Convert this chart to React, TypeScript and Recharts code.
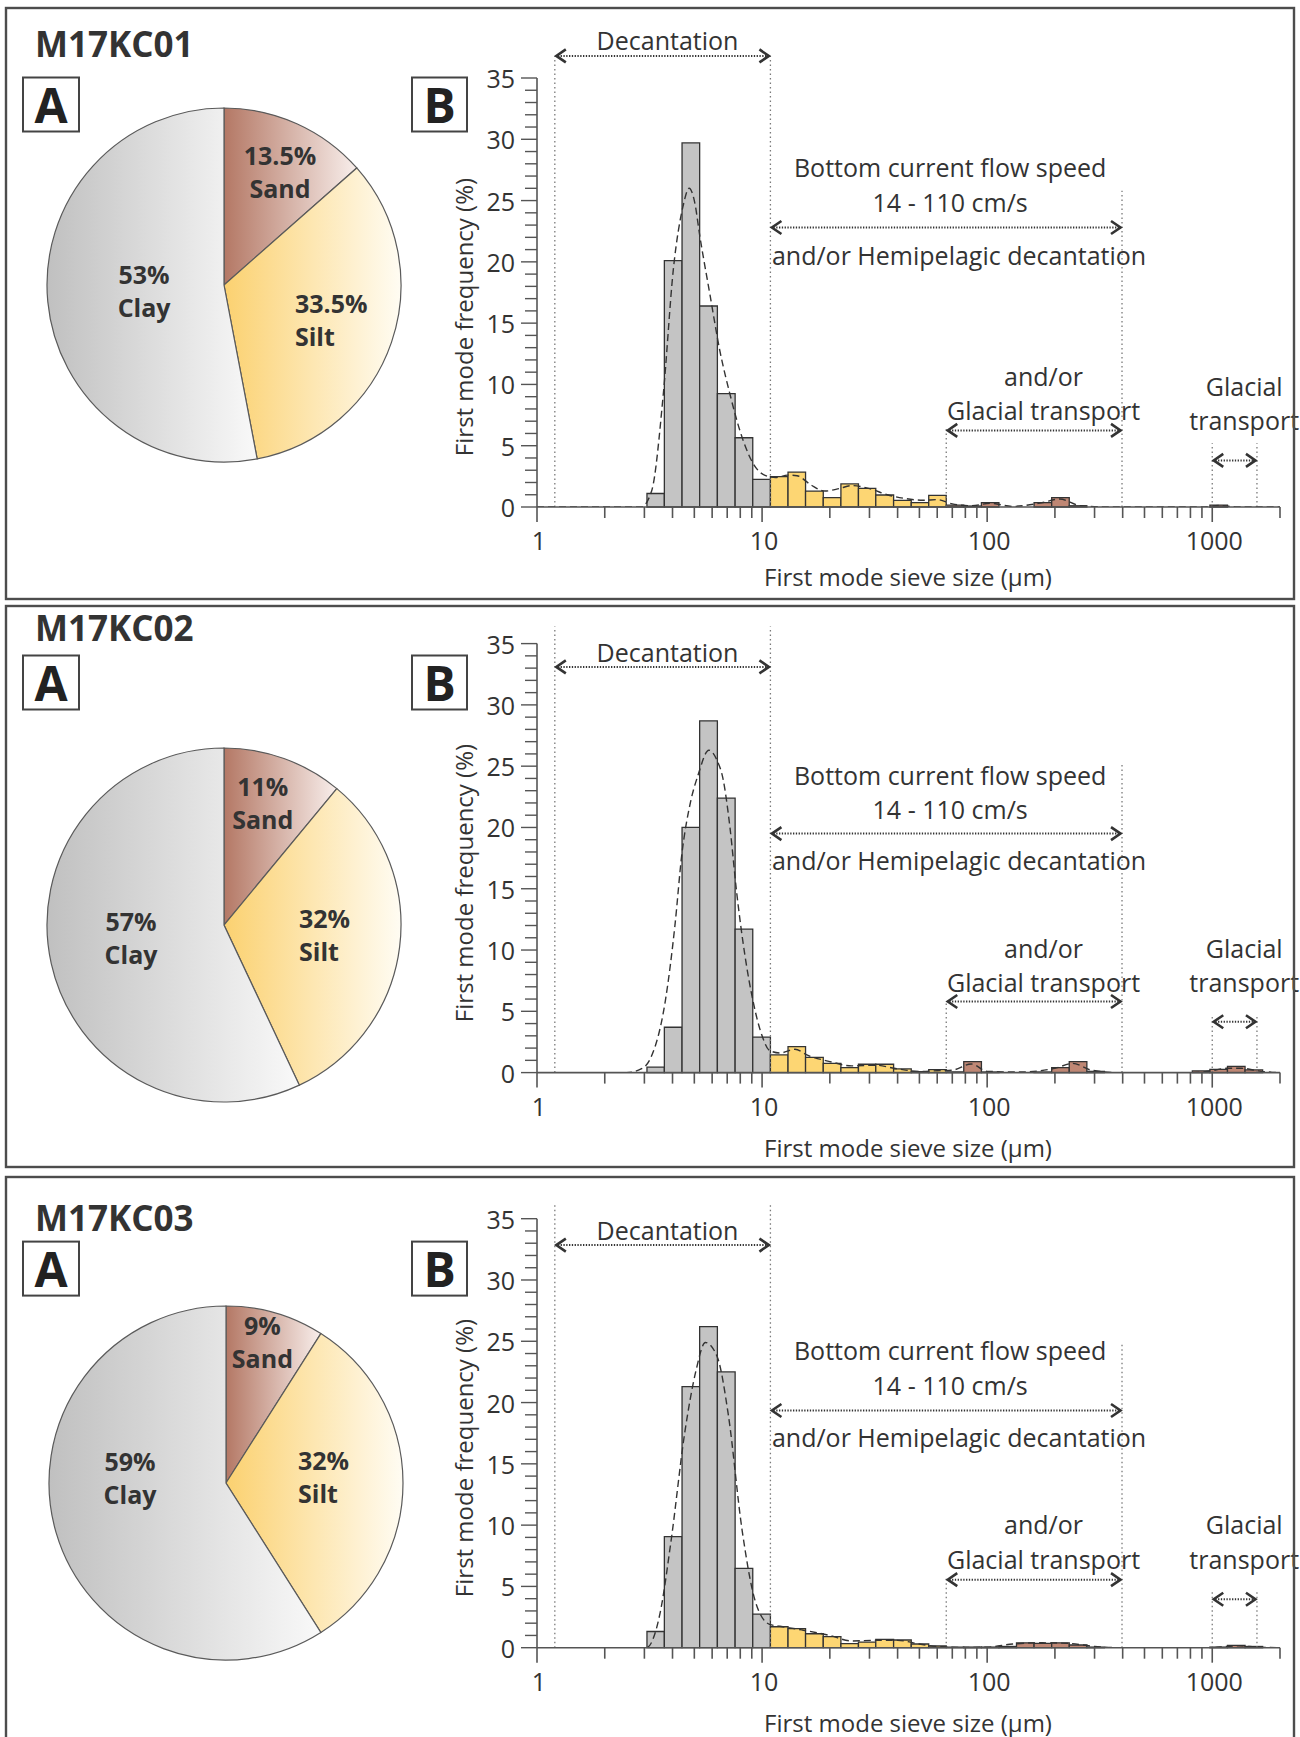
import React from "react";
import {
  ComposedChart,
  Line,
  XAxis,
  YAxis,
  ReferenceArea,
  ReferenceLine,
  ReferenceDot,
  PieChart,
  Pie,
  Cell,
} from "recharts";

const FONT = "'Open Sans', 'DejaVu Sans', sans-serif";
const INK = "#333333";
const AXIS = "#555555";

// sieve bin edges (µm); one bar between two neighbouring edges
const binEdges = [
  3.08, 3.68, 4.41, 5.28, 6.33, 7.59, 9.09, 10.89, 13.04, 15.6, 18.7, 22.4, 26.8,
  32.0, 38.4, 46.0, 55.0, 65.8, 78.7, 94.3, 112.8, 135, 161.6, 193.5, 231.6,
  277.3, 331.9, 397.3, 475.6, 569.3, 681.4, 815.6, 976.3, 1168.7, 1398.9, 1674.5, 2004,
];

// first mode frequency (%) per bin
const freqKC01 = [
  1.1, 20.1, 29.7, 16.4, 9.25, 5.65, 2.26, 2.47, 2.85, 1.3, 0.76, 1.88, 1.52, 0.98,
  0.54, 0.35, 0.95, 0.15, 0.08, 0.35, 0, 0, 0.35, 0.76, 0.1, 0, 0, 0, 0, 0, 0, 0,
  0.16, 0, 0, 0,
];
const freqKC02 = [
  0.45, 3.7, 20.0, 28.7, 22.4, 11.7, 2.9, 1.44, 2.12, 1.25, 0.76, 0.41, 0.68, 0.68,
  0.3, 0.08, 0.24, 0.05, 0.9, 0.05, 0, 0, 0.05, 0.41, 0.9, 0.1, 0, 0, 0, 0, 0,
  0.14, 0.27, 0.5, 0.22, 0.05,
];
const freqKC03 = [
  1.32, 9.06, 21.3, 26.2, 22.5, 6.47, 2.74, 1.71, 1.55, 1.14, 0.9, 0.33, 0.46, 0.68,
  0.63, 0.3, 0.14, 0.05, 0.05, 0.05, 0.1, 0.4, 0.35, 0.4, 0.22, 0.05, 0, 0, 0, 0,
  0, 0, 0.05, 0.19, 0.1, 0,
];

// dashed fitted curve: [size µm, frequency %]
const fitKC01 = [
  [1, 0], [2.9, 0], [3.23, 1.3], [3.64, 9.2], [4.04, 19.5], [4.45, 24.5], [4.74, 26],
  [5.0, 25], [5.3, 22], [5.87, 17.3], [6.5, 12.7], [7.2, 9.2], [7.98, 6.2], [9.0, 3.75],
  [10.1, 2.66], [11.5, 2.4], [13, 2.6], [14.3, 2.55], [16.5, 1.8], [19, 1.3], [22, 1.5],
  [25, 1.75], [30, 1.5], [36, 1.0], [43, 0.7], [52, 0.55], [60, 0.6], [70, 0.25],
  [85, 0.1], [103, 0.3], [130, 0.05], [175, 0.35], [210, 0.65], [260, 0.1], [350, 0],
  [900, 0], [1070, 0.12], [1300, 0], [2000, 0],
];
const fitKC02 = [
  [1, 0], [2.5, 0], [2.9, 0.3], [3.2, 1.2], [3.72, 5.9], [4.1, 12], [4.4, 17.8], [4.8, 22],
  [5.2, 24.3], [5.8, 26.3], [6.3, 25.5], [6.7, 24], [7.2, 20], [7.7, 14.8], [8.4, 9.5],
  [9.1, 5.9], [10, 3], [10.8, 1.8], [12, 1.6], [14, 1.9], [16, 1.4], [20, 0.9], [25, 0.55],
  [32, 0.6], [40, 0.3], [50, 0.1], [60, 0.15], [70, 0.2], [85, 0.7], [100, 0.1], [140, 0.05],
  [200, 0.35], [240, 0.75], [290, 0.2], [380, 0], [800, 0], [1000, 0.15], [1150, 0.35],
  [1350, 0.35], [1650, 0.1], [2000, 0],
];
const fitKC03 = [
  [1, 0], [2.8, 0], [3.06, 0], [3.52, 2.8], [3.94, 8.7], [4.53, 17.5], [5.07, 22.5],
  [5.6, 24.9], [6.33, 23.7], [7.08, 19], [8.15, 9.6], [9.36, 3.7], [10.8, 1.9], [12, 1.75],
  [15, 1.45], [20, 1.0], [25, 0.55], [32, 0.6], [40, 0.6], [50, 0.3], [60, 0.1], [80, 0.02],
  [100, 0.05], [130, 0.3], [170, 0.4], [230, 0.35], [300, 0.1], [400, 0], [1000, 0],
  [1150, 0.1], [1300, 0.15], [1600, 0.05], [2000, 0],
];

// bulk composition (%)
const compKC01 = [
  { name: "Sand", value: 13.5 },
  { name: "Silt", value: 33.5 },
  { name: "Clay", value: 53 },
];
const compKC02 = [
  { name: "Sand", value: 11 },
  { name: "Silt", value: 32 },
  { name: "Clay", value: 57 },
];
const compKC03 = [
  { name: "Sand", value: 9 },
  { name: "Silt", value: 32 },
  { name: "Clay", value: 59 },
];

const sieveTicks = [
  1, 2, 3, 4, 5, 6, 7, 8, 9, 10, 20, 30, 40, 50, 60, 70, 80, 90, 100, 200, 300, 400,
  500, 600, 700, 800, 900, 1000, 2000,
];
const sieveLabels = [1, 10, 100, 1000];
const freqTicks = [
  0, 1, 2, 3, 4, 5, 6, 7, 8, 9, 10, 11, 12, 13, 14, 15, 16, 17, 18, 19, 20, 21, 22, 23,
  24, 25, 26, 27, 28, 29, 30, 31, 32, 33, 34, 35,
];

// transport zones (µm)
const DEC_FROM = 1.2;
const DEC_TO = 10.89;
const BC_TO = 397.3;
const GL_FROM = 65.8;
const GL2_FROM = 1000;
const GL2_TO = 1580;
const SAND_MIN = 65.8;

// vertical levels (in %) of the annotations, per core
const annKC01 = { decText: 38.1, decArrow: 36.8, decTop: 36.8, bc1: 27.7, bc2: 24.9, bcArrow: 22.8, bc3: 20.6, bcTop: 25.8, gl1: 10.7, gl2: 7.9, glArrow: 6.25, glTop: 6.4, g21: 9.9, g22: 7.1, g2Arrow: 3.8, g2Top: 5.2 };
const annKC02 = { decText: 34.3, decArrow: 33.1, decTop: 36.4, bc1: 24.3, bc2: 21.5, bcArrow: 19.5, bc3: 17.35, bcTop: 25.1, gl1: 10.2, gl2: 7.4, glArrow: 5.8, glTop: 5.8, g21: 10.2, g22: 7.4, g2Arrow: 4.15, g2Top: 4.75 };
const annKC03 = { decText: 34.1, decArrow: 32.85, decTop: 36.2, bc1: 24.25, bc2: 21.4, bcArrow: 19.35, bc3: 17.2, bcTop: 24.9, gl1: 10.1, gl2: 7.25, glArrow: 5.55, glTop: 5.8, g21: 10.1, g22: 7.25, g2Arrow: 3.95, g2Top: 4.55 };

// pie label placement: [radius factor, angle nudge, anchor]
const labKC01 = { Sand: [0.69, 3, "middle"], Silt: [0.456, 9.6, "start"], Clay: [0.455, -1.7, "middle"] };
const labKC02 = { Sand: [0.7, -1.6, "middle"], Silt: [0.431, 3.4, "start"], Clay: [0.534, 2.2, "middle"] };
const labKC03 = { Sand: [0.8, -1.3, "middle"], Silt: [0.407, -1.2, "start"], Clay: [0.542, 16.5, "middle"] };

const panels = [
  { id: "1", title: "M17KC01", freq: freqKC01, fit: fitKC01, comp: compKC01, ann: annKC01, lab: labKC01,
    top: 0, height: 600, plotTop: 78, pieCx: 219, pieCy: 280,
    frameTop: 8, frameBottom: 599, titleBase: 57, boxY: 77.5, yTitleY: 317, xTitleY: 576 },
  { id: "2", title: "M17KC02", freq: freqKC02, fit: fitKC02, comp: compKC02, ann: annKC02, lab: labKC02,
    top: 600, height: 570, plotTop: 43.6, pieCx: 219, pieCy: 320,
    frameTop: 606, frameBottom: 1167, titleBase: 641, boxY: 655.5, yTitleY: 883, xTitleY: 1147 },
  { id: "3", title: "M17KC03", freq: freqKC03, fit: fitKC03, comp: compKC03, ann: annKC03, lab: labKC03,
    top: 1170, height: 567, plotTop: 48.7, pieCx: 221, pieCy: 308,
    frameTop: 1177, frameBottom: 1800, titleBase: 1231, boxY: 1241.6, yTitleY: 1458, xTitleY: 1722 },
];

const PLOT_H = 429;

function barColor(lo: number) {
  if (lo >= SAND_MIN - 0.01) return "#bf8774";
  if (lo >= DEC_TO - 0.01) return "#fdd673";
  return "#c4c4c4";
}

const SieveTick = (p: any) => {
  const v = p.payload.value;
  const major = sieveLabels.includes(v);
  return (
    <g>
      <line x1={p.x} x2={p.x} y1={p.y} y2={p.y + (major ? 15 : 11)} stroke={AXIS} strokeWidth={1.6} />
      {major && (
        <text x={p.x + 2} y={p.y + 33} textAnchor="middle" dominantBaseline="central"
          fontFamily={FONT} fontSize={25} fill={INK}>{v}</text>
      )}
    </g>
  );
};

const FreqTick = (p: any) => {
  const v = p.payload.value;
  const major = v % 5 === 0;
  return (
    <g>
      <line x1={p.x - (major ? 16 : 12)} x2={p.x} y1={p.y} y2={p.y} stroke={AXIS} strokeWidth={1.4} />
      {major && (
        <text x={p.x - 22} y={p.y} textAnchor="end" dominantBaseline="central"
          fontFamily={FONT} fontSize={25} fill={INK}>{v}</text>
      )}
    </g>
  );
};

const arrowShape = (p: any) => {
  const { x1, x2, y1 } = p;
  const y = y1;
  const w = 11;
  const h = 6.5;
  return (
    <g>
      <line x1={x1 + 3} x2={x2 - 3} y1={y} y2={y} stroke={INK} strokeWidth={2} strokeDasharray="1.3 1.5" />
      <polyline points={`${x1 + w},${y - h} ${x1 + 1.5},${y} ${x1 + w},${y + h}`} fill="none" stroke={INK} strokeWidth={2.6} />
      <polyline points={`${x2 - w},${y - h} ${x2 - 1.5},${y} ${x2 - w},${y + h}`} fill="none" stroke={INK} strokeWidth={2.6} />
    </g>
  );
};

const textShape = (t: string) => (p: any) => (
  <text x={p.cx} y={p.cy} textAnchor="middle" dominantBaseline="central"
    fontFamily={FONT} fontSize={25} fill={INK}>{t}</text>
);

function vline(key: string, x: number, top: number) {
  return (
    <ReferenceLine key={key} segment={[{ x, y: 0 }, { x, y: top }]} stroke="#7a7a7a"
      strokeWidth={1.3} strokeDasharray="1.5 3" ifOverflow="visible" />
  );
}

function arrow(key: string, a: number, b: number, y: number) {
  return (
    <ReferenceLine key={key} segment={[{ x: a, y }, { x: b, y }]} shape={arrowShape} ifOverflow="visible" />
  );
}

function note(key: string, x: number, y: number, t: string) {
  return <ReferenceDot key={key} x={x} y={y} r={0} ifOverflow="visible" shape={textShape(t)} />;
}

function Histogram({ panel }: any) {
  const { freq, fit, ann, height, plotTop } = panel;
  const data = fit.map(([x, y]: number[]) => ({ x, fit: y }));
  const bars = freq
    .map((f: number, i: number) => ({ f, i }))
    .filter((b: any) => b.f > 0);
  return (
    <ComposedChart width={860} height={height} data={data}
      margin={{ top: plotTop, right: 20, bottom: 0, left: 7 }}>
      <XAxis dataKey="x" type="number" scale="log" domain={[1, 2000]} allowDataOverflow
        ticks={sieveTicks} interval={0} tickSize={0} tickMargin={0} tickLine={false}
        height={height - plotTop - PLOT_H} axisLine={{ stroke: AXIS, strokeWidth: 1.6 }}
        tick={<SieveTick />} />
      <YAxis type="number" domain={[0, 35]} allowDataOverflow ticks={freqTicks} interval={0}
        tickSize={0} tickMargin={0} tickLine={false} width={90}
        axisLine={{ stroke: AXIS, strokeWidth: 1.6 }} tick={<FreqTick />} />
      {bars.map((b: any) => (
        <ReferenceArea key={"b" + b.i} x1={binEdges[b.i]} x2={binEdges[b.i + 1]} y1={0} y2={b.f}
          fill={barColor(binEdges[b.i])} fillOpacity={1} stroke="#333" strokeWidth={1.3} strokeOpacity={1} />
      ))}
      {vline("v1", DEC_FROM, ann.decTop)}
      {vline("v2", DEC_TO, ann.decTop)}
      {vline("v3", BC_TO, ann.bcTop)}
      {vline("v4", GL_FROM, ann.glTop)}
      {vline("v5", GL2_FROM, ann.g2Top)}
      {vline("v6", GL2_TO, ann.g2Top)}
      {arrow("a1", DEC_FROM, DEC_TO, ann.decArrow)}
      {arrow("a2", DEC_TO, BC_TO, ann.bcArrow)}
      {arrow("a3", GL_FROM, BC_TO, ann.glArrow)}
      {arrow("a4", GL2_FROM, GL2_TO, ann.g2Arrow)}
      {note("t1", 3.8, ann.decText, "Decantation")}
      {note("t2", 68.5, ann.bc1, "Bottom current flow speed")}
      {note("t3", 68.5, ann.bc2, "14 - 110 cm/s")}
      {note("t4", 75, ann.bc3, "and/or Hemipelagic decantation")}
      {note("t5", 178, ann.gl1, "and/or")}
      {note("t6", 178, ann.gl2, "Glacial transport")}
      {note("t7", 1387, ann.g21, "Glacial")}
      {note("t8", 1387, ann.g22, "transport")}
      <Line dataKey="fit" type="monotone" stroke="#333" strokeWidth={1.4} strokeDasharray="7 4"
        dot={false} activeDot={false} isAnimationActive={false} />
    </ComposedChart>
  );
}

function CompositionPie({ panel }: any) {
  const { id, comp, lab, height, pieCx, pieCy } = panel;
  const renderLabel = (p: any) => {
    const d = comp[p.index];
    const [k, da, anchor] = lab[d.name];
    const a = ((p.midAngle - da) * Math.PI) / 180;
    const r = p.outerRadius * k;
    const x = p.cx + r * Math.cos(a);
    const y = p.cy - r * Math.sin(a);
    return (
      <g key={"l" + p.index}>
        <text x={x} y={y - 21} textAnchor={anchor} dominantBaseline="central" fontFamily={FONT}
          fontWeight={700} fontSize={25} fill={INK}>{`${d.value}%`}</text>
        <text x={x} y={y + 12} textAnchor={anchor} dominantBaseline="central" fontFamily={FONT}
          fontWeight={700} fontSize={25} fill={INK}>{d.name}</text>
      </g>
    );
  };
  return (
    <PieChart width={440} height={height}>
      <defs>
        <linearGradient id={"sand" + id} x1="0" y1="0" x2="1" y2="0">
          <stop offset="0%" stopColor="#b47865" />
          <stop offset="100%" stopColor="#f8eeeb" />
        </linearGradient>
        <linearGradient id={"silt" + id} x1="0" y1="0" x2="1" y2="0">
          <stop offset="0%" stopColor="#fbd170" />
          <stop offset="100%" stopColor="#fffcf3" />
        </linearGradient>
        <linearGradient id={"clay" + id} x1="0" y1="0" x2="1" y2="0">
          <stop offset="0%" stopColor="#c0c0c0" />
          <stop offset="100%" stopColor="#f9f9f9" />
        </linearGradient>
      </defs>
      <Pie data={comp} dataKey="value" nameKey="name" cx={pieCx} cy={pieCy} outerRadius={177}
        startAngle={90} endAngle={-270} stroke="#5a5a5a" strokeWidth={1.2}
        isAnimationActive={false} label={renderLabel} labelLine={false}>
        {comp.map((d: any) => (
          <Cell key={d.name} fill={`url(#${d.name.toLowerCase()}${id})`} />
        ))}
      </Pie>
    </PieChart>
  );
}

function Frame({ panel }: any) {
  const { title, frameTop, frameBottom, titleBase, boxY, yTitleY, xTitleY } = panel;
  return (
    <g>
      <rect x={6} y={frameTop} width={1288} height={frameBottom - frameTop} fill="none" stroke="#4d4d4d" strokeWidth={2.4} />
      <text x={35} y={titleBase} fontFamily={FONT} fontWeight={700} fontSize={35} fill={INK}>{title}</text>
      <rect x={23} y={boxY} width={56} height={54} fill="none" stroke="#444" strokeWidth={2} />
      <text x={51} y={boxY + 27} textAnchor="middle" dominantBaseline="central" fontFamily={FONT}
        fontWeight={700} fontSize={48} fill="#222">A</text>
      <rect x={412} y={boxY} width={55} height={54} fill="none" stroke="#444" strokeWidth={2} />
      <text x={439.5} y={boxY + 27} textAnchor="middle" dominantBaseline="central" fontFamily={FONT}
        fontWeight={700} fontSize={48} fill="#222">B</text>
      <text x={463} y={yTitleY} transform={`rotate(-90 463 ${yTitleY})`} textAnchor="middle"
        dominantBaseline="central" fontFamily={FONT} fontSize={24} fill={INK}>First mode frequency (%)</text>
      <text x={908} y={xTitleY} textAnchor="middle" dominantBaseline="central" fontFamily={FONT}
        fontSize={24} fill={INK}>First mode sieve size (µm)</text>
    </g>
  );
}

export default function App() {
  return (
    <div style={{ position: "absolute", left: 0, top: 0, width: 1300, height: 1737, background: "#fff", overflow: "hidden", fontFamily: FONT }}>
      {panels.map((p) => (
        <React.Fragment key={p.id}>
          <div style={{ position: "absolute", left: 0, top: p.top, width: 440, height: p.height }}>
            <CompositionPie panel={p} />
          </div>
          <div style={{ position: "absolute", left: 440, top: p.top, width: 860, height: p.height }}>
            <Histogram panel={p} />
          </div>
        </React.Fragment>
      ))}
      <svg width={1300} height={1737} style={{ position: "absolute", left: 0, top: 0, pointerEvents: "none" }}>
        {panels.map((p) => (
          <Frame key={p.id} panel={p} />
        ))}
      </svg>
    </div>
  );
}
